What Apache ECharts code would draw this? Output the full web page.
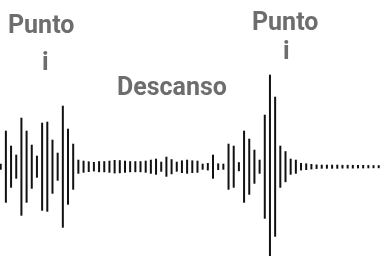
<!DOCTYPE html>
<html>
<head>
    <meta charset="utf-8">
    <title>Waveform</title>
    <script src="https://cdn.jsdelivr.net/npm/echarts@6/dist/echarts.min.js"></script>
</head>
<body style="margin:0">
    <div id="main" style="width:387px;height:256px"></div>
    <script type="text/javascript">
        // half amplitude of each line, left to right
        var amps = [3, 36, 21, 12, 49, 36, 22, 11, 44, 45, 27, 14, 61, 38, 23, 7,
            6, 5.3, 4.7, 5.5, 5.5, 6, 6.7, 6.5, 6,
            5.5, 5.5, 5.5, 6, 7, 8, 5, 10, 7.5, 5, 6.3, 7, 6.3, 6, 3, 3.7, 12, 3.3, 3,
            23, 21, 4.5, 36, 28, 17, 7, 52, 92, 70, 21, 15.5, 8, 7, 3.7, 3.3, 2.7, 2.2,
            2, 2, 2, 2, 1.8, 1.8, 1.8, 1.7, 1.7, 1.6, 1.5, 1.5];
        var labels = ['Punto', 'i', 'Descanso', 'Punto', 'i'];

        var data = amps.map(function (h, i) { return [i, h]; });

        var myChart = echarts.init(document.getElementById('main'), null, { renderer: 'canvas' });

        var font = 'bold 25px Roboto';
        var grey = '#6d6d6d';

        var option = {
            animation: false,
            backgroundColor: '#fff',
            grid: { left: 0.7, width: 378, top: 66.7, height: 200, outerBoundsMode: 'none' },
            xAxis: { type: 'value', min: 0, max: amps.length - 1, show: false },
            yAxis: { type: 'value', min: -100, max: 100, show: false },
            graphic: [
                { type: 'text', left: 8, top: 14, style: { text: labels[0], font: font, fill: grey } },
                { type: 'text', left: 42, top: 51, style: { text: labels[1], font: font, fill: grey } },
                { type: 'text', left: 117, top: 76, style: { text: labels[2], font: font, fill: grey } },
                { type: 'text', left: 252, top: 11, style: { text: labels[3], font: font, fill: grey } },
                { type: 'text', left: 283, top: 40, style: { text: labels[4], font: font, fill: grey } }
            ],
            series: [{
                type: 'custom',
                clip: false,
                data: data,
                encode: { x: 0, y: 1 },
                renderItem: function (params, api) {
                    var i = api.value(0), h = api.value(1);
                    var top = api.coord([i, h]);
                    var bot = api.coord([i, -h]);
                    return {
                        type: 'rect',
                        shape: { x: top[0] - 1, y: top[1], width: 2, height: bot[1] - top[1] },
                        style: { fill: '#111' }
                    };
                }
            }]
        };

        myChart.setOption(option);
    </script>
</body>
</html>
